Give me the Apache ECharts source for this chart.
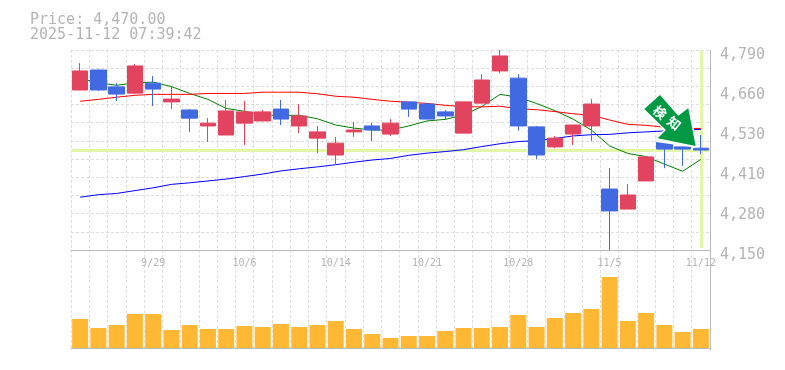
<!DOCTYPE html>
<html>
<head>
<meta charset="utf-8">
<title>Price chart</title>
<script src="https://cdn.jsdelivr.net/npm/echarts@6/dist/echarts.min.js"></script>
<style>
    html, body { margin: 0; padding: 0; background: #fff; }
    #main { width: 785px; height: 370px; }
</style>
</head>
<body>
<div id="main"></div>
<script>
var dates = ['9/22', '9/24', '9/25', '9/26', '9/29', '9/30', '10/1', '10/2', '10/3', '10/6', '10/7', '10/8',
    '10/9', '10/10', '10/14', '10/15', '10/16', '10/17', '10/20', '10/21', '10/22', '10/23', '10/24', '10/27',
    '10/28', '10/29', '10/30', '10/31', '11/4', '11/5', '11/6', '11/7', '11/10', '11/11', '11/12'];
var xTickDates = ['9/29', '10/6', '10/14', '10/21', '10/28', '11/5', '11/12'];

var opens = [4662, 4726, 4672, 4652, 4684, 4624, 4598, 4547, 4518, 4556, 4563, 4601,
    4547, 4508, 4454, 4528, 4547, 4521, 4624, 4617, 4592, 4524, 4620, 4723,
    4700, 4544, 4480, 4521, 4547, 4345, 4281, 4371, 4496, 4480, 4476];
var closes = [4723, 4662, 4649, 4739, 4665, 4633, 4572, 4556, 4595, 4592, 4592, 4569,
    4579, 4528, 4492, 4534, 4534, 4556, 4601, 4569, 4579, 4624, 4694, 4771,
    4547, 4454, 4508, 4550, 4617, 4275, 4326, 4448, 4473, 4473, 4470];
var lows = [4662, 4659, 4627, 4649, 4611, 4601, 4528, 4496, 4518, 4486, 4563, 4550,
    4524, 4460, 4422, 4512, 4499, 4515, 4576, 4569, 4566, 4524, 4620, 4716,
    4532, 4441, 4476, 4486, 4499, 4150, 4281, 4371, 4412, 4419, 4457];
var highs = [4748, 4729, 4684, 4745, 4707, 4675, 4601, 4572, 4630, 4627, 4598, 4630,
    4617, 4547, 4512, 4560, 4556, 4569, 4624, 4620, 4598, 4624, 4713, 4790,
    4713, 4547, 4515, 4550, 4633, 4412, 4361, 4451, 4496, 4480, 4518];

var maShort = [4699, 4685, 4677, 4685, 4687, 4673, 4651, 4632, 4603, 4594, 4582, 4581,
    4581, 4570, 4550, 4540, 4534, 4534, 4547, 4563, 4568, 4582, 4609, 4648,
    4639, 4619, 4596, 4569, 4534, 4483, 4459, 4449, 4425, 4402, 4440];
var maMid = [4626, 4632, 4639, 4645, 4648, 4648, 4648, 4651, 4651, 4651, 4655, 4655,
    4655, 4650, 4642, 4639, 4632, 4626, 4623, 4619, 4613, 4609, 4608, 4610,
    4602, 4599, 4593, 4586, 4581, 4566, 4552, 4549, 4543, 4539, 4539];
var maLong = [4319, 4327, 4331, 4340, 4349, 4360, 4365, 4371, 4377, 4385, 4393, 4403,
    4410, 4416, 4423, 4431, 4438, 4443, 4453, 4460, 4465, 4471, 4481, 4490,
    4497, 4500, 4507, 4515, 4519, 4520, 4525, 4528, 4531, 4534, 4536];

var volumes = [29, 20, 23, 34, 34, 18, 23, 19, 19, 22, 21, 24,
    21, 23, 27, 19, 14, 10, 12, 12, 17, 20, 20, 21,
    33, 21, 30, 35, 39, 71, 27, 35, 23, 16, 19];

var priceMin = 4150;
var priceMax = 4790;
var lastPrice = 4470;
var yLabelPos = [4150, 4278, 4406, 4534, 4662, 4790];
var yLabelText = ['4,150', '4,280', '4,410', '4,530', '4,660', '4,790'];
var gridValues = [4150, 4208.18, 4266.36, 4324.55, 4382.73, 4440.91, 4499.09, 4557.27, 4615.45, 4673.64, 4731.82, 4790];
var signalPrice = 4483;

var GREY = '#b4b4b4';
var AXIS = '#bbbbbb';
var GRID = '#dddddd';
var MONO = '"DejaVu Sans Mono", monospace';

var candles = dates.map(function (d, i) {
    return [opens[i], closes[i], lows[i], highs[i]];
});

function lineSeries(name, data, color) {
    return {
        name: name,
        type: 'line',
        data: data,
        symbol: 'none',
        z: 4,
        lineStyle: { color: color, width: 1 }
    };
}

// arrow shape is relative to its tip
function drawArrow(params, api) {
    var p = api.coord([api.value(0), api.value(1)]);
    var arrow = [[-40.9, -51], [-56.6, -37], [-34.9, -16], [-43.2, -7.7], [-5.2, 0], [-12.6, -37.7], [-22.6, -30.3]];
    var halo = [[-44, -8], [-5.2, 0], [-6, 1.6], [-45, -4]];
    return {
        type: 'group',
        x: p[0],
        y: p[1],
        children: [
            { type: 'polygon', shape: { points: halo }, style: { fill: '#fff' } },
            { type: 'polygon', shape: { points: arrow }, style: { fill: '#fff', stroke: '#fff', lineWidth: 3 } },
            { type: 'polygon', shape: { points: arrow }, style: { fill: '#009944' } },
            { type: 'text', x: -40.9, y: -33.7, rotation: -0.68,
                style: { text: '検', fill: '#fff', font: 'bold 13px "Noto Sans CJK JP"', align: 'center', verticalAlign: 'middle' } },
            { type: 'text', x: -26.6, y: -22.7, rotation: -0.68,
                style: { text: '知', fill: '#fff', font: 'bold 13px "Noto Sans CJK JP"', align: 'center', verticalAlign: 'middle' } }
        ]
    };
}

var option = {
    animation: false,
    backgroundColor: '#fff',
    title: {
        text: 'Price: 4,470.00\n2025-11-12 07:39:42',
        left: 30,
        top: 13,
        padding: 0,
        textStyle: { color: GREY, fontFamily: MONO, fontSize: 15, fontWeight: 'normal', lineHeight: 15 }
    },
    grid: [
        { left: 71, top: 50, width: 639, height: 200 },
        { left: 71, top: 250, width: 639, height: 100 }
    ],
    xAxis: [
        {
            type: 'category',
            data: dates,
            gridIndex: 0,
            axisLine: { lineStyle: { color: AXIS, width: 1 } },
            axisTick: { show: false },
            axisLabel: {
                color: GREY,
                fontFamily: MONO,
                fontSize: 10,
                margin: 8,
                interval: function (i, v) { return xTickDates.indexOf(v) >= 0; }
            },
            splitLine: { show: true, interval: 0, lineStyle: { color: GRID, type: [3, 2] } }
        },
        {
            type: 'category',
            data: dates,
            gridIndex: 1,
            axisLine: { lineStyle: { color: AXIS, width: 1 } },
            axisTick: { show: false },
            axisLabel: { show: false },
            splitLine: { show: true, interval: 0, lineStyle: { color: GRID, type: [3, 2] } }
        }
    ],
    yAxis: [
        {
            type: 'value',
            gridIndex: 0,
            position: 'right',
            min: priceMin,
            max: priceMax,
            axisLine: { show: true, lineStyle: { color: AXIS, width: 1 } },
            axisTick: { show: false, customValues: gridValues },
            axisLabel: {
                customValues: yLabelPos,
                color: GREY,
                fontFamily: MONO,
                fontSize: 15,
                margin: 10,
                verticalAlign: 'top',
                lineHeight: 10,
                formatter: function (v) { return yLabelText[yLabelPos.indexOf(v)]; }
            },
            splitLine: { show: true, lineStyle: { color: GRID, type: [3, 2] } }
        },
        {
            type: 'value',
            gridIndex: 1,
            position: 'right',
            min: -2,
            max: 98,
            axisLine: { show: true, lineStyle: { color: AXIS, width: 1 } },
            axisTick: { show: false },
            axisLabel: { show: false },
            splitLine: { show: false }
        }
    ],
    series: [
        {
            name: 'levels',
            type: 'line',
            data: [],
            z: 1,
            markLine: {
                silent: true,
                z: 1,
                symbol: 'none',
                label: { show: false },
                lineStyle: { color: '#e2f5a8', width: 3, type: 'solid' },
                data: [
                    { yAxis: lastPrice },
                    [{ coord: [dates[34], priceMax - 3] }, { coord: [dates[34], priceMin + 6] }]
                ]
            }
        },
        lineSeries('short', maShort, '#008000'),
        lineSeries('mid', maMid, '#ff0000'),
        lineSeries('long', maLong, '#0000ff'),
        {
            name: 'price',
            type: 'candlestick',
            data: candles,
            barWidth: 16,
            z: 6,
            itemStyle: {
                color: '#e2435f',
                color0: '#4169e1',
                borderColor: '#e2435f',
                borderColor0: '#4169e1',
                borderWidth: 1
            }
        },
        {
            name: 'volume',
            type: 'bar',
            xAxisIndex: 1,
            yAxisIndex: 1,
            data: volumes,
            barWidth: 16,
            itemStyle: { color: '#ffb833' }
        },
        {
            name: 'signal',
            type: 'custom',
            data: [[dates.length - 1, signalPrice]],
            z: 10,
            silent: true,
            encode: { x: 0, y: 1 },
            renderItem: drawArrow
        }
    ]
};

var chart = echarts.init(document.getElementById('main'), null, { renderer: 'canvas' });
chart.setOption(option);
</script>
</body>
</html>
